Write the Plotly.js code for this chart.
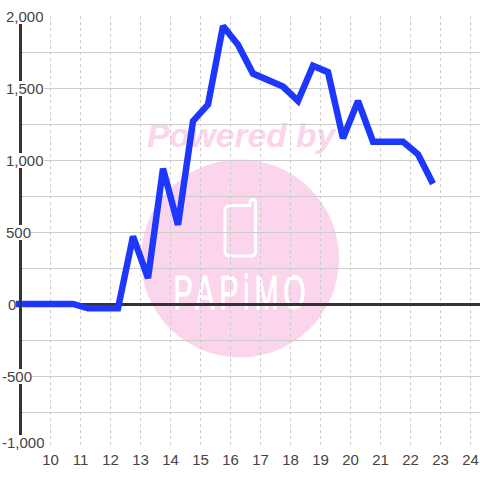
<!DOCTYPE html>
<html><head><meta charset="utf-8">
<script src="https://cdn.plot.ly/plotly-3.0.1.min.js"></script>
<style>html,body{margin:0;padding:0;background:#fff}#c{width:480px;height:480px}</style>
</head><body><div id="c"></div>
<script>
const hours = [8.75,9.25,9.75,10.25,10.75,11.25,11.75,12.25,12.75,13.25,13.75,14.25,14.75,15.25,15.75,16.25,16.75,17.25,17.75,18.25,18.75,19.25,19.75,20.25,20.75,21.25,21.75,22.25,22.75];
const values = [0,0,0,0,0,-30,-30,-30,470,180,940,550,1270,1385,1930,1800,1600,1560,1510,1410,1655,1610,1150,1410,1127,1127,1127,1040,835];
const xTicks = [10,11,12,13,14,15,16,17,18,19,20,21,22,23,24];
const yTicks = [2000,1500,1000,500,0,-500,-1000];
const yTickLabels = ['2,000','1,500','1,000','500','0','-500','-1,000'];
const watermarkTop = 'Powered by';
const watermarkBrand = 'PAPiMO';

const PINK = '#fbd5ec', TXT = '#444444', DARK = '#333333', GRID = '#cccccc';
const L = 22, T = 16, B = 32;
const W = 480 - L, H = 480 - T - B;
// pixel <-> data helpers for the decorative watermark only
const dx = p => 9 + (p - 20.5) / 30;
const dy = p => (304.5 - p) / 0.144;
const pathPx = s => s.replace(/(-?[\d.]+) (-?[\d.]+)/g, (m, a, b) => dx(+a) + ' ' + dy(+b));

const labelLeft = {'0': 8, '-500': 2, '-1,000': 2};
const annotations = yTicks.map((v, i) => ({
  xref: 'paper', yref: 'y', y: v,
  x: ((labelLeft[yTickLabels[i]] ?? 6) - L) / W,
  xanchor: 'left', yanchor: 'middle',
  text: yTickLabels[i], showarrow: false,
  font: {family: 'Liberation Sans, Arial, sans-serif', size: 15, color: TXT},
  bgcolor: '#ffffff', borderpad: 0, borderwidth: 0, height: 15,
  yshift: v === -1000 ? 6 : 0
}));

const shapes = [
  {type: 'circle', layer: 'below', xref: 'x', yref: 'y', x0: dx(141), x1: dx(339), y0: dy(358), y1: dy(160),
   fillcolor: PINK, line: {width: 0}},
  {type: 'path', layer: 'below', xref: 'x', yref: 'y', line: {color: '#ffffff', width: 3},
   path: 'M' + pathPx('231 206') + ' L' + pathPx('250 206') + ' L' + pathPx('250 203') + ' Q' + pathPx('250 200') + ' ' + pathPx('253 200') +
         ' Q' + pathPx('255.5 200') + ' ' + pathPx('255.5 203') + ' L' + pathPx('255.5 252') + ' Q' + pathPx('255.5 256.5') + ' ' + pathPx('251 256.5') +
         ' L' + pathPx('230 256.5') + ' Q' + pathPx('225 256.5') + ' ' + pathPx('225 252') + ' L' + pathPx('225 211') + ' Q' + pathPx('225 206') + ' ' + pathPx('231 206') + ' Z'},
  {type: 'rect', layer: 'below', xref: 'x', yref: 'y', x0: dx(141), x1: dx(341), y0: dy(149), y1: dy(115), line: {width: 0}, fillcolor: 'rgba(0,0,0,0)',
   label: {text: watermarkTop, textposition: 'middle center', font: {family: 'Liberation Sans, Arial, sans-serif', size: 33.5, color: PINK, weight: 'bold', style: 'italic'}}},
  {type: 'rect', layer: 'below', xref: 'x', yref: 'y', x0: dx(140), x1: dx(340), y0: dy(311), y1: dy(266), line: {width: 0}, fillcolor: 'rgba(0,0,0,0)',
   label: {text: watermarkBrand, textposition: 'middle center', font: {family: 'Liberation Sans, Arial, sans-serif', size: 48, color: '#ffffff'}}}
];

const trace = {
  x: hours, y: values, type: 'scatter', mode: 'lines', cliponaxis: false,
  line: {color: '#1e37ff', width: 6.5}, hoverinfo: 'skip', showlegend: false
};

const layout = {
  width: 480, height: 480,
  margin: {l: L, r: 0, t: T, b: B, pad: 0},
  paper_bgcolor: '#ffffff', plot_bgcolor: '#ffffff',
  showlegend: false,
  xaxis: {
    range: [dx(L), dx(480)], tickmode: 'array', tickvals: xTicks, ticktext: xTicks.map(String),
    showgrid: true, gridcolor: GRID, gridwidth: 1, griddash: '3px,3px',
    zeroline: false, showline: false, ticks: '', ticklabelstandoff: 1,
    tickfont: {family: 'Liberation Sans, Arial, sans-serif', size: 15, color: TXT}
  },
  yaxis: {
    range: [-1000, 2000], dtick: 250, tick0: 0, showticklabels: false, ticks: '',
    showgrid: true, gridcolor: GRID, gridwidth: 1,
    zeroline: true, zerolinecolor: DARK, zerolinewidth: 3,
    showline: true, linecolor: DARK, linewidth: 3
  },
  annotations, shapes
};

Plotly.newPlot('c', [trace], layout, {displayModeBar: false, staticPlot: true}).then(() => {
  // the series line overruns the axis on the left, as in the reference
  document.querySelectorAll('.js-line').forEach(line => {
    for (let el = line; el && el.tagName !== 'svg'; el = el.parentNode) el.removeAttribute('clip-path');
  });
  // the brand lettering is a narrow, widely spaced logotype
  document.querySelectorAll('text').forEach(t => {
    if (t.textContent === watermarkBrand) {
      const cx = 240;
      t.setAttribute('letter-spacing', '8');
      t.setAttribute('stroke', '#ffffff');
      t.setAttribute('stroke-width', '1');
      t.setAttribute('transform', `translate(${cx + 2},0) scale(0.6,1) translate(${-cx},0)`);
    }
  });
});
</script></body></html>
